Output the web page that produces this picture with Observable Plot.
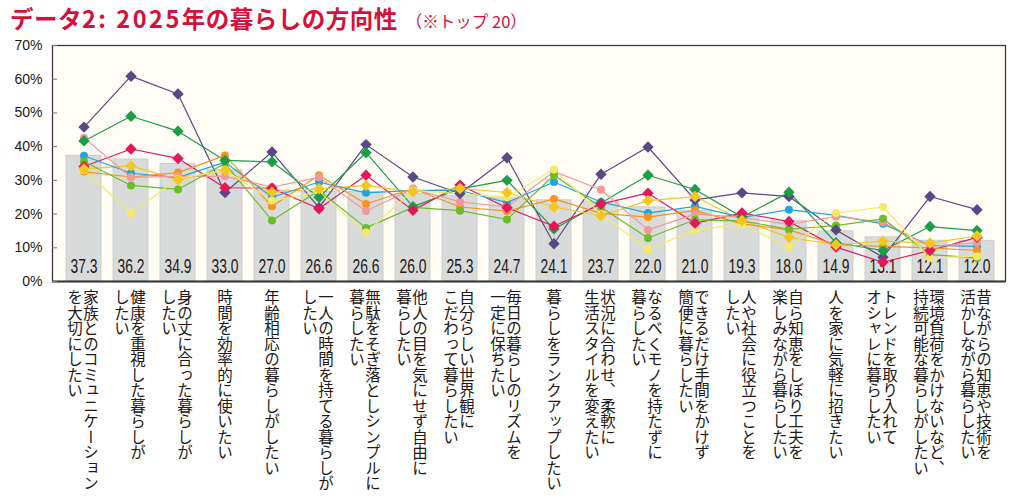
<!DOCTYPE html>
<html><head><meta charset="utf-8">
<script src="https://cdn.jsdelivr.net/npm/d3@7"></script>
<script src="https://cdn.jsdelivr.net/npm/@observablehq/plot@0.6"></script>
<style>
body{margin:0;background:#fff;width:1010px;height:502px;overflow:hidden;}
#title{height:36px;padding-left:10px;font-family:"Noto Sans CJK JP",sans-serif;color:#d3123b;white-space:nowrap;line-height:36px;}
#title .main{font-size:23.5px;font-weight:700;letter-spacing:0.5px;}
#title .num{letter-spacing:2.5px;}
#title .sub{font-size:16.5px;margin-left:8px;}
</style></head><body>
<div id="title"><span class="main">データ<span class="num">2: 2025</span>年の暮らしの方向性</span><span class="sub">（※トップ 20）</span></div>
<div id="chart"></div>
<script>
// category labels (vertical columns, right column first)
const categoryLabels = [
  ["家族とのコミュニケーション", "を大切にしたい"],
  ["健康を重視した暮らしが", "したい"],
  ["身の丈に合った暮らしが", "したい"],
  ["時間を効率的に使いたい"],
  ["年齢相応の暮らしがしたい"],
  ["一人の時間を持てる暮らしが", "したい"],
  ["無駄をそぎ落としシンプルに", "暮らしたい"],
  ["他人の目を気にせず自由に", "暮らしたい"],
  ["自分らしい世界観に", "こだわって暮らしたい"],
  ["毎日の暮らしのリズムを", "一定に保ちたい"],
  ["暮らしをランクアップしたい"],
  ["状況に合わせ、柔軟に", "生活スタイルを変えたい"],
  ["なるべくモノを持たずに", "暮らしたい"],
  ["できるだけ手間をかけず", "簡便に暮らしたい"],
  ["人や社会に役立つことを", "したい"],
  ["自ら知恵をしぼり工夫を", "楽しみながら暮らしたい"],
  ["人を家に気軽に招きたい"],
  ["トレンドを取り入れて", "オシャレに暮らしたい"],
  ["環境負荷をかけないなど、", "持続可能な暮らしがしたい"],
  ["昔ながらの知恵や技術を", "活かしながら暮らしたい"]
];
const totals = [37.3, 36.2, 34.9, 33.0, 27.0, 26.6, 26.6, 26.0, 25.3, 24.7, 24.1, 23.7, 22.0, 21.0, 19.3, 18.0, 14.9, 13.1, 12.1, 12.0];

const seriesPurple  = [45.8, 60.9, 55.6, 26.4, 38.4, 21.9, 40.6, 31.0, 26.1, 36.7, 11.2, 31.8, 39.9, 24.2, 26.3, 25.2, 15.3, 7.2, 25.2, 21.3];
const seriesGreen   = [41.7, 49.0, 44.6, 35.9, 35.5, 25.0, 38.2, 22.2, 27.5, 30.0, 15.6, 23.3, 31.5, 27.3, 19.1, 26.5, 11.5, 9.2, 16.3, 15.1];
const seriesCrimson = [34.1, 39.3, 36.5, 27.8, 27.7, 21.6, 31.5, 21.1, 28.6, 21.9, 16.4, 23.0, 26.2, 17.3, 20.3, 17.8, 10.2, 5.7, 9.2, 13.1];
const seriesGold    = [33.4, 34.3, 30.2, 32.9, 26.5, 27.5, 28.5, 26.6, 27.6, 26.4, 22.1, 19.5, 24.0, 25.2, 18.1, 13.1, 10.9, 12.0, 11.4, 13.5];
const seriesBlue    = [37.3, 32.1, 30.8, 35.4, 25.0, 29.5, 26.3, 27.0, 27.0, 23.4, 29.5, 23.6, 20.3, 22.3, 19.0, 21.3, 19.6, 17.1, 10.7, 10.4];
const seriesOrange  = [32.6, 31.0, 32.3, 37.4, 22.3, 31.5, 23.0, 27.6, 22.1, 20.9, 24.5, 20.2, 19.1, 21.1, 17.1, 15.3, 10.9, 10.4, 10.0, 9.2];
const seriesPink    = [42.6, 30.9, 31.2, 31.2, 28.0, 30.9, 20.9, 27.5, 23.6, 22.1, 32.6, 27.2, 15.3, 20.0, 19.0, 16.9, 19.3, 17.6, 10.4, 11.5];
const seriesLime    = [35.6, 28.5, 27.3, 35.0, 18.1, 27.0, 15.9, 22.0, 21.0, 18.4, 31.5, 22.0, 12.9, 18.3, 18.0, 15.5, 16.6, 18.6, 8.0, 7.0];
const seriesPaleYel = [33.0, 20.3, 30.5, 33.0, 24.0, 26.5, 14.5, 27.0, 26.0, 25.0, 33.2, 20.0, 9.4, 15.3, 17.0, 10.2, 20.3, 22.1, 7.0, 7.5];

const yTicks = [0, 10, 20, 30, 40, 50, 60, 70];

const diamondSeries = [
  {name: "s1", color: "#574886", values: seriesPurple},
  {name: "s2", color: "#1c9d48", values: seriesGreen},
  {name: "s3", color: "#e3175c", values: seriesCrimson},
  {name: "s4", color: "#f4c71f", values: seriesGold}
];
const circleSeries = [
  {name: "s5", color: "#22a4df", values: seriesBlue},
  {name: "s6", color: "#f7931e", values: seriesOrange},
  {name: "s7", color: "#f0999a", values: seriesPink},
  {name: "s8", color: "#6bbb2a", values: seriesLime},
  {name: "s9", color: "#f5ea68", values: seriesPaleYel}
];
const allSeries = [...diamondSeries, ...circleSeries];

const cats = d3.range(categoryLabels.length);
const barData = cats.map(i => ({cat: i, total: totals[i]}));
const toLong = arr => arr.flatMap(s => s.values.map((v, i) => ({cat: i, value: v, series: s.name})));
const longAll = toLong(allSeries);
const longDiamond = toLong(diamondSeries);
const longCircle = toLong(circleSeries);

const singleCols = [], rightCols = [], leftCols = [];
categoryLabels.forEach((cols, i) => {
  if (cols.length === 1) singleCols.push({cat: i, text: cols[0]});
  else { rightCols.push({cat: i, text: cols[0]}); leftCols.push({cat: i, text: cols[1]}); }
});
const labelSet = new Set(categoryLabels.flat());
const valueSet = new Set(totals.map(v => v.toFixed(1)));

const diamondSym = {draw(ctx, size) {
  const h = Math.sqrt(size / Math.PI);
  ctx.moveTo(0, -h); ctx.lineTo(h, 0); ctx.lineTo(0, h); ctx.lineTo(-h, 0); ctx.closePath();
}};

const labelFont = "'Noto Sans CJK JP', sans-serif";
const numFont = "'Liberation Sans', Arial, sans-serif";

const plot = Plot.plot({
  width: 1010,
  height: 466,
  marginTop: 9,
  marginBottom: 221,
  marginLeft: 52,
  marginRight: 5,
  insetLeft: 6.5,
  insetRight: 4.5,
  style: {background: "transparent", color: "#231815"},
  x: {type: "band", domain: cats, paddingInner: 0.26, paddingOuter: 0.13, axis: null},
  y: {domain: [0, 70]},
  color: {domain: allSeries.map(s => s.name), range: allSeries.map(s => s.color)},
  marks: [
    Plot.frame({fill: "#fffdf6", stroke: null}),
    Plot.barY(barData, {x: "cat", y: "total", fill: "#d9dbdb", stroke: "#c6c8c8", strokeWidth: 0.8}),
    Plot.text(barData, {x: "cat", text: d => d.total.toFixed(1), frameAnchor: "bottom", dy: -9,
      fontSize: 20, fontFamily: numFont, fill: "#231815"}),
    Plot.line(longAll, {x: "cat", y: "value", z: "series", stroke: "series", strokeWidth: 1.2}),
    Plot.dot(longCircle, {x: "cat", y: "value", fill: "series", r: 4, symbol: "circle"}),
    Plot.dot(longDiamond, {x: "cat", y: "value", fill: "series", r: 5.7, symbol: diamondSym}),
    Plot.frame({stroke: "#3a3a3a", strokeWidth: 1.3}),
    Plot.ruleY([0], {stroke: "#3a3a3a", strokeWidth: 2}),
    Plot.axisY({ticks: yTicks, tickFormat: d => d + "%", tickSize: 0, tickPadding: 10, label: null,
      fontSize: 14, fontFamily: "'Liberation Sans', Arial, sans-serif"}),
    Plot.axisY({ticks: yTicks, tickSize: 5, text: null, label: null, dx: 5, stroke: "#777"}),
    Plot.text(singleCols, {x: "cat", text: "text", frameAnchor: "bottom", dy: 8, dx: 0, textAnchor: "start",
      fontSize: 15.5, fontFamily: labelFont, fill: "#231815"}),
    Plot.text(rightCols, {x: "cat", text: "text", frameAnchor: "bottom", dy: 8, dx: 7, textAnchor: "start",
      fontSize: 15.5, fontFamily: labelFont, fill: "#231815"}),
    Plot.text(leftCols, {x: "cat", text: "text", frameAnchor: "bottom", dy: 8, dx: -9, textAnchor: "start",
      fontSize: 15.5, fontFamily: labelFont, fill: "#231815"})
  ]
});
const svg = plot.tagName.toLowerCase() === "svg" ? plot : plot.querySelector("svg");
svg.style.overflow = "visible";
d3.select(svg).selectAll("text")
  .filter(function() { return labelSet.has(this.textContent); })
  .attr("y", null)
  .attr("writing-mode", "tb")
  .attr("style", "writing-mode: vertical-rl; text-orientation: mixed;");
d3.select(svg).selectAll("text")
  .filter(function() { return valueSet.has(this.textContent); })
  .attr("textLength", 27)
  .attr("lengthAdjust", "spacingAndGlyphs");
document.getElementById("chart").appendChild(plot);
</script>
</body></html>
